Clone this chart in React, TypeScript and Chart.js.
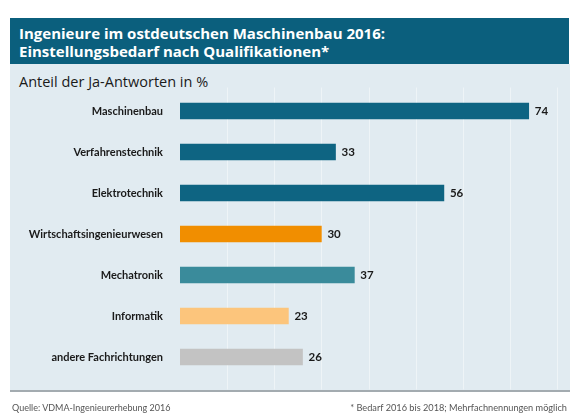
import React, { useEffect, useRef } from "react";
import { Chart, registerables } from "chart.js";

Chart.register(...registerables);

const categories = [
  "Maschinenbau",
  "Verfahrenstechnik",
  "Elektrotechnik",
  "Wirtschaftsingenieurwesen",
  "Mechatronik",
  "Informatik",
  "andere Fachrichtungen",
];
const values = [74, 33, 56, 30, 37, 23, 26];
const barColors = ["#0e6482", "#0e6482", "#0e6482", "#f18e00", "#3a8b9b", "#fcc57c", "#c3c3c3"];
const gridTicks = [10, 20, 30, 40, 50, 60, 70, 80];

const titleLines = ["Ingenieure im ostdeutschen Maschinenbau 2016:", "Einstellungsbedarf nach Qualifikationen*"];
const subtitle = "Anteil der Ja-Antworten in %";
const sourceText = "Quelle: VDMA-Ingenieurerhebung 2016";
const noteText = "* Bedarf 2016 bis 2018; Mehrfachnennungen möglich";

const FONT = "'Open Sans', 'Noto Sans', sans-serif";
const LABEL_FONT = "Lato, 'Open Sans', sans-serif";

export default function App() {
  const ref = useRef<HTMLCanvasElement | null>(null);

  useEffect(() => {
    if (!ref.current) return;
    const gridPlugin = {
      id: "gridPlugin",
      beforeDatasetsDraw(chart: any) {
        const { ctx, chartArea, scales } = chart;
        ctx.save();
        ctx.strokeStyle = "rgba(255,255,255,0.45)";
        ctx.lineWidth = 1;
        gridTicks.forEach((v) => {
          const x = Math.round(scales.x.getPixelForValue(v)) + 0.5;
          ctx.beginPath();
          ctx.moveTo(x, chartArea.top - 3);
          ctx.lineTo(x, chartArea.bottom + 12);
          ctx.stroke();
        });
        ctx.restore();
      },
    };
    const labelPlugin = {
      id: "labelPlugin",
      afterDatasetsDraw(chart: any) {
        const { ctx } = chart;
        const meta = chart.getDatasetMeta(0);
        ctx.save();
        ctx.font = `bold 11.5px ${LABEL_FONT}`;
        ctx.fillStyle = "#1a1a1a";
        ctx.textBaseline = "middle";
        ctx.textAlign = "left";
        meta.data.forEach((bar: any, i: number) => {
          ctx.fillText(String(values[i]), bar.x + 6, bar.y);
        });
        ctx.restore();
      },
    };
    const chart = new Chart(ref.current, {
      type: "bar",
      data: {
        labels: categories,
        datasets: [
          {
            data: values,
            backgroundColor: barColors,
            barThickness: 16,
            borderWidth: 0,
          },
        ],
      },
      options: {
        indexAxis: "y",
        animation: false,
        responsive: false,
        maintainAspectRatio: false,
        devicePixelRatio: 1,
        layout: { padding: { left: 0, top: 90.5, right: 23, bottom: 36.5 } },
        scales: {
          x: { display: false, min: 0, max: 80 },
          y: {
            type: "category",
            grid: { display: false },
            border: { display: false },
            ticks: {
              color: "#1a1a1a",
              padding: 9,
              font: { family: LABEL_FONT, size: 11, weight: "bold" },
            },
            afterFit: (scale: any) => {
              scale.width = 180;
            },
          },
        },
        plugins: {
          legend: { display: false },
          tooltip: { enabled: false },
        },
      },
      plugins: [gridPlugin, labelPlugin],
    } as any);
    return () => chart.destroy();
  }, []);

  return (
    <div style={{ position: "absolute", left: 0, top: 0, width: 580, height: 414, background: "#ffffff", fontFamily: FONT }}>
      <div
        style={{
          position: "absolute",
          left: 10,
          top: 18,
          width: 559,
          height: 46,
          background: "#0b5f7d",
          color: "#ffffff",
          fontWeight: 700,
          fontSize: 15,
          lineHeight: "18px",
          boxSizing: "border-box",
          padding: "6px 0 0 9px",
          whiteSpace: "nowrap",
        }}
      >
        <div>{titleLines[0]}</div>
        <div>{titleLines[1]}</div>
      </div>
      <div
        style={{
          position: "absolute",
          left: 10,
          top: 64,
          width: 560,
          height: 326,
          background: "#e1ebf1",
          borderBottom: "2px solid #a3abb0",
        }}
      />
      <div
        style={{
          position: "absolute",
          left: 19,
          top: 72,
          fontSize: 14.5,
          lineHeight: "20px",
          color: "#1a1a1a",
          whiteSpace: "nowrap",
        }}
      >
        {subtitle}
      </div>
      <canvas ref={ref} width={580} height={414} style={{ position: "absolute", left: 0, top: 0, width: 580, height: 414 }} />
      <div style={{ position: "absolute", left: 12, top: 401, fontFamily: LABEL_FONT, fontSize: 9, lineHeight: "13px", color: "#555555", whiteSpace: "nowrap" }}>
        {sourceText}
      </div>
      <div style={{ position: "absolute", right: 13, top: 401, fontFamily: LABEL_FONT, fontSize: 9.2, lineHeight: "13px", color: "#555555", whiteSpace: "nowrap" }}>
        {noteText}
      </div>
    </div>
  );
}
